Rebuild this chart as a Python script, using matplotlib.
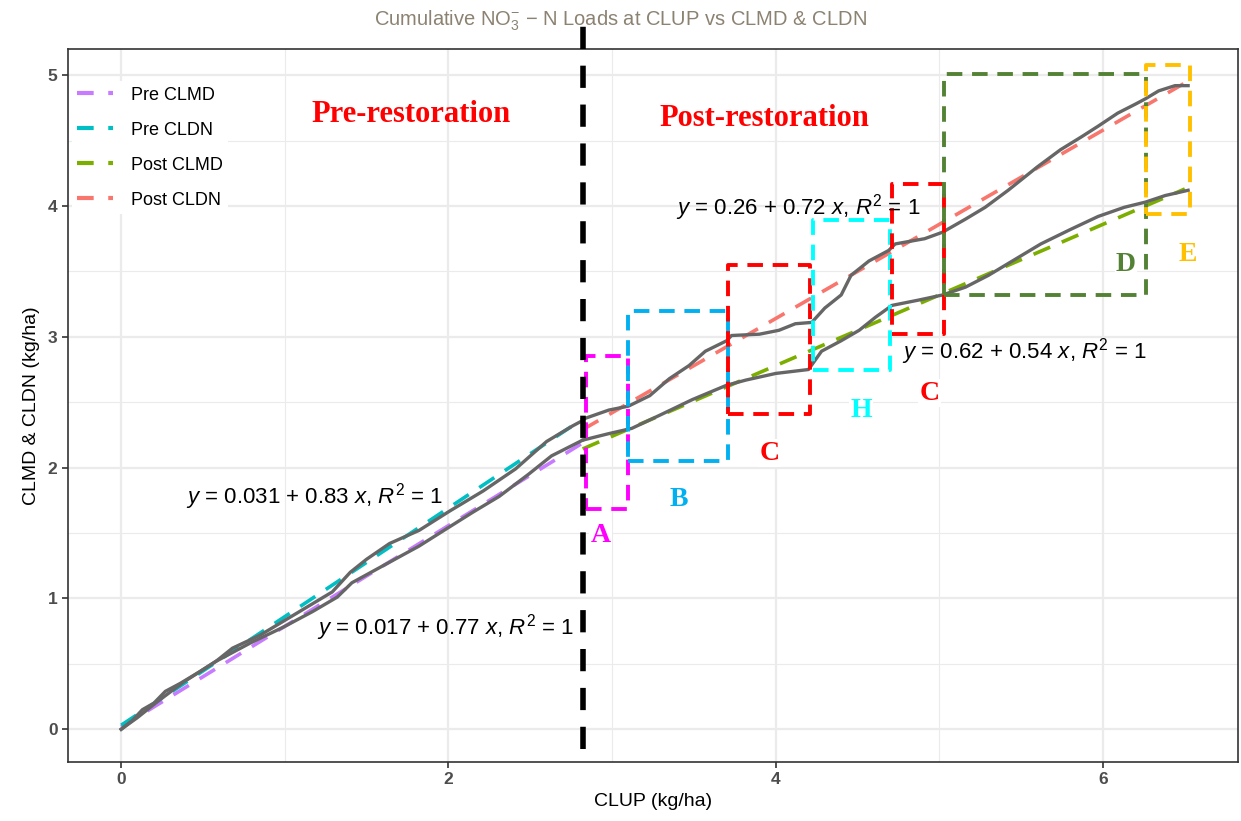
import numpy as np
import matplotlib.pyplot as plt
from matplotlib.lines import Line2D

plt.rcParams['font.family'] = ['Liberation Sans', 'DejaVu Sans']
plt.rcParams['mathtext.fontset'] = 'custom'
plt.rcParams['mathtext.rm'] = 'Liberation Sans'
plt.rcParams['mathtext.it'] = 'Liberation Sans:italic'

# cumulative loads (kg/ha)
pre_clup   = [0, 0.07, 0.13, 0.20, 0.27, 0.36, 0.48, 0.58, 0.68, 0.85, 1.01, 1.13, 1.29, 1.40,
              1.50, 1.64, 1.82, 2.01, 2.21, 2.41, 2.60, 2.76, 2.82]
pre_cldn   = [0, 0.07, 0.15, 0.20, 0.29, 0.35, 0.44, 0.52, 0.62, 0.72, 0.84, 0.93, 1.05, 1.20,
              1.30, 1.42, 1.52, 1.67, 1.82, 1.99, 2.20, 2.32, 2.36]
pre_clup_m = [0, 0.10, 0.22, 0.38, 0.58, 0.79, 0.99, 1.17, 1.32, 1.41, 1.60, 1.82, 2.01, 2.15,
              2.31, 2.49, 2.63, 2.82]
pre_clmd   = [0, 0.09, 0.21, 0.36, 0.52, 0.66, 0.78, 0.90, 1.01, 1.12, 1.25, 1.40, 1.55, 1.66,
              1.78, 1.95, 2.09, 2.21]

post_clup   = [2.82, 2.98, 3.10, 3.23, 3.35, 3.47, 3.57, 3.70, 3.73, 3.90, 4.02, 4.12, 4.22, 4.30,
               4.40, 4.46, 4.57, 4.69, 4.73, 4.91, 5.02, 5.16, 5.28, 5.42, 5.60, 5.74, 5.87,
               5.97, 6.09, 6.20, 6.26, 6.34, 6.44, 6.52]
post_cldn   = [2.37, 2.44, 2.47, 2.55, 2.68, 2.78, 2.89, 2.97, 3.01, 3.02, 3.05, 3.10, 3.11, 3.22,
               3.32, 3.47, 3.58, 3.66, 3.71, 3.75, 3.80, 3.90, 3.99, 4.12, 4.30, 4.43, 4.53,
               4.61, 4.71, 4.78, 4.82, 4.88, 4.92, 4.92]
post_clup_m = [2.82, 2.98, 3.12, 3.29, 3.49, 3.70, 3.82, 4.00, 4.20, 4.28, 4.40, 4.51, 4.61, 4.71,
               4.87, 5.02, 5.16, 5.30, 5.46, 5.62, 5.80, 5.97, 6.13, 6.26, 6.38, 6.52]
post_clmd   = [2.21, 2.26, 2.30, 2.40, 2.52, 2.63, 2.67, 2.72, 2.75, 2.89, 2.97, 3.05, 3.15, 3.24,
               3.28, 3.32, 3.38, 3.47, 3.59, 3.71, 3.82, 3.92, 3.99, 4.03, 4.08, 4.12]

# regression fits (intercept, slope) and x range
fit_names  = ['Pre CLMD', 'Pre CLDN', 'Post CLMD', 'Post CLDN']
fit_coef   = [(0.017, 0.77), (0.031, 0.83), (0.62, 0.54), (0.26, 0.72)]
fit_range  = [(0, 2.82), (0, 2.82), (2.82, 6.5), (2.82, 6.5)]
fit_colors = ['#C77CFF', '#00BFC4', '#7CAE00', '#F8766D']
eq_text = [r'$y$ = 0.017 + 0.77 $x$, $R^2$ = 1', r'$y$ = 0.031 + 0.83 $x$, $R^2$ = 1',
           r'$y$ = 0.62 + 0.54 $x$, $R^2$ = 1', r'$y$ = 0.26 + 0.72 $x$, $R^2$ = 1']
eq_pos = [(1.98, 0.78), (1.18, 1.78), (5.52, 2.89), (4.14, 3.99)]

# highlighted periods: label, (x0, x1, y0, y1), colour, label position
boxes = [('A', (2.84, 3.10, 1.68, 2.85), '#FF00FF', (2.93, 1.48)),
         ('B', (3.10, 3.71, 2.05, 3.20), '#00B0F0', (3.41, 1.76)),
         ('C', (3.71, 4.21, 2.41, 3.55), '#FF0000', (3.96, 2.11)),
         ('H', (4.23, 4.70, 2.75, 3.89), '#00FFFF', (4.52, 2.44)),
         ('C', (4.71, 5.03, 3.02, 4.17), '#FF0000', (4.94, 2.57)),
         ('D', (5.03, 6.26, 3.32, 5.01), '#548235', (6.14, 3.55)),
         ('E', (6.26, 6.53, 3.94, 5.08), '#FFC000', (6.52, 3.63))]

restoration_x = 2.82

fig = plt.figure(figsize=(12.41, 8.21), dpi=100)
ax = fig.add_axes([0.0548, 0.0719, 0.9428, 0.8684])
ax.set_xlim(-0.325, 6.825)
ax.set_ylim(-0.25, 5.2)

ax.set_xticks([0, 2, 4, 6])
ax.set_xticks([1, 3, 5], minor=True)
ax.set_yticks([0, 1, 2, 3, 4, 5])
ax.set_yticks(np.arange(0.5, 5, 1), minor=True)
ax.grid(which='major', color='#EBEBEB', lw=1.6)
ax.grid(which='minor', color='#EBEBEB', lw=0.8)
ax.set_axisbelow(True)
for s in ax.spines.values():
    s.set_color('#333333')
    s.set_linewidth(1.2)
ax.tick_params(which='major', length=4, color='#333333', width=1.2, labelsize=12.5,
               labelcolor='#4D4D4D')
ax.tick_params(which='minor', length=0)
for lab in ax.get_xticklabels() + ax.get_yticklabels():
    lab.set_fontweight('bold')

for i in range(4):
    a, b = fit_coef[i]
    xs = np.array(fit_range[i])
    ax.plot(xs, a + b * xs, color=fit_colors[i], lw=2.6, dashes=(5, 3.5), zorder=3)

ax.plot(pre_clup, pre_cldn, color='#666666', lw=2.4, zorder=4)
ax.plot(pre_clup_m, pre_clmd, color='#666666', lw=2.4, zorder=4)
ax.plot(post_clup, post_cldn, color='#666666', lw=2.4, zorder=4)
ax.plot(post_clup_m, post_clmd, color='#666666', lw=2.4, zorder=4)

for t, p in zip(eq_text, eq_pos):
    ax.text(p[0], p[1], t, fontsize=16, ha='center', va='center', zorder=6)

for lab, (x0, x1, y0, y1), c, (lx, ly) in boxes:
    ax.plot([x0, x1, x1, x0, x0], [y0, y0, y1, y1, y0], color=c, lw=2.8,
            dashes=(4, 2.5), zorder=5)
    ax.text(lx, ly, lab, color=c, fontsize=20, fontweight='bold', family='Liberation Serif',
            ha='center', va='center', zorder=6,
            bbox=dict(facecolor='white', edgecolor='none', pad=1))

ax.plot([restoration_x, restoration_x], [-0.15, 5.38], color='black', lw=4,
        dashes=(4, 3), clip_on=False, zorder=7)

ax.text(1.77, 4.70, 'Pre-restoration', color='#FF0000', fontsize=22, fontweight='bold',
        family='Liberation Serif', ha='center', va='center')
ax.text(3.93, 4.67, 'Post-restoration', color='#FF0000', fontsize=22, fontweight='bold',
        family='Liberation Serif', ha='center', va='center')

handles = [Line2D([0], [0], color=c, lw=3, dashes=(4, 3.5)) for c in fit_colors]
leg = ax.legend(handles, fit_names, loc='upper left', bbox_to_anchor=(0.003, 0.955),
                fontsize=13, frameon=True, facecolor='white', edgecolor='none',
                framealpha=1, fancybox=False, labelspacing=1.0, handlelength=2.0,
                handletextpad=1.0, borderpad=0.3, borderaxespad=0)
leg.set_zorder(8)

ax.set_xlabel('CLUP (kg/ha)', fontsize=14, labelpad=4)
ax.set_ylabel('CLMD & CLDN (kg/ha)', fontsize=14, labelpad=6)
fig.text(0.5, 0.975, r'Cumulative NO$_3^{-}$ $-$ N Loads at CLUP vs CLMD & CLDN',
         fontsize=14.5, color='#8C8272', ha='center', va='center')

fig.savefig('out.png', dpi=100)
